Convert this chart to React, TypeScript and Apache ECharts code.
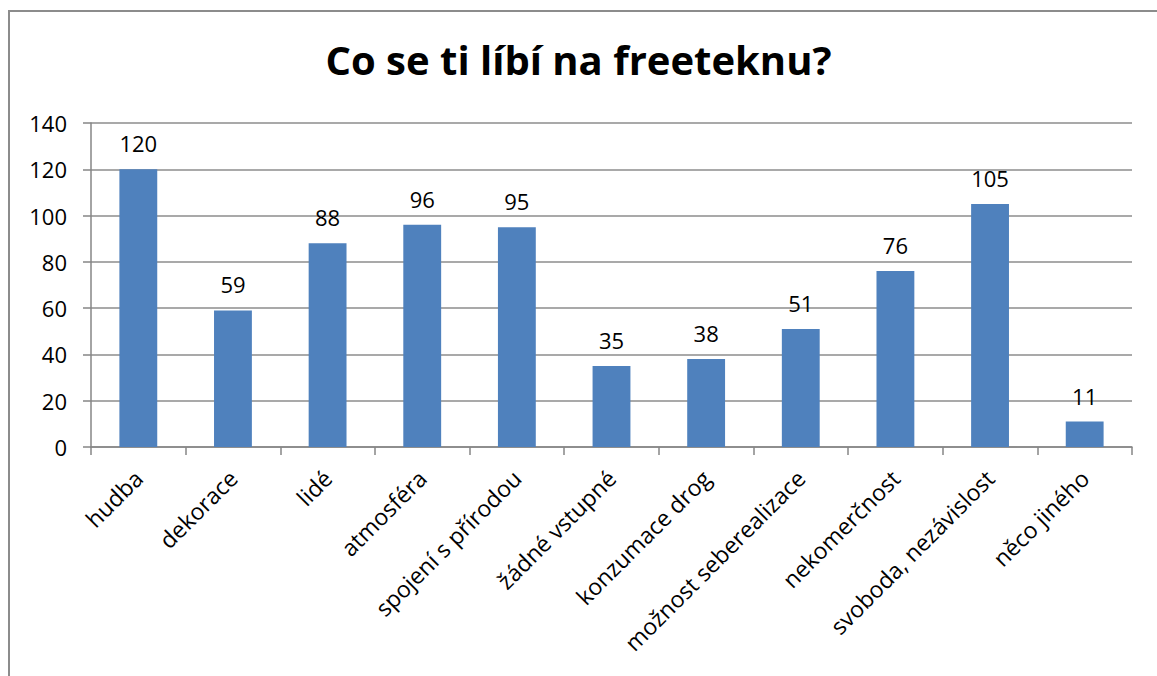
import React, { useEffect, useRef } from "react";
import * as echarts from "echarts";

const categories = [
  "hudba",
  "dekorace",
  "lidé",
  "atmosféra",
  "spojení s přírodou",
  "žádné vstupné",
  "konzumace drog",
  "možnost seberealizace",
  "nekomerčnost",
  "svoboda, nezávislost",
  "něco jiného",
];
const values = [120, 59, 88, 96, 95, 35, 38, 51, 76, 105, 11];
const titleText = "Co se ti líbí na freeteknu?";

const FONT = "'Open Sans', 'Noto Sans', sans-serif";

export default function App() {
  const ref = useRef<HTMLDivElement>(null);
  useEffect(() => {
    if (!ref.current) return;
    const chart = echarts.init(ref.current, undefined, { renderer: "svg" });
    chart.setOption({
      animation: false,
      backgroundColor: "#ffffff",
      title: {
        text: titleText,
        left: "center",
        top: 34,
        textStyle: {
          fontFamily: FONT,
          fontWeight: "bold",
          fontSize: 40,
          color: "#000000",
        },
      },
      graphic: [
        {
          type: "rect",
          shape: { x: 9, y: 11, width: 1170, height: 700 },
          style: { fill: "none", stroke: "#8c8c8c", lineWidth: 2 },
          silent: true,
        },
      ],
      grid: { left: 91, top: 123, right: 25, bottom: 229, containLabel: false },
      xAxis: {
        type: "category",
        data: categories,
        axisLine: { show: true, lineStyle: { color: "#868686", width: 1.5 } },
        axisTick: {
          show: true,
          length: 8,
          interval: 0,
          lineStyle: { color: "#868686", width: 1.5 },
        },
        axisLabel: {
          interval: 0,
          rotate: 45,
          margin: 27,
          fontFamily: FONT,
          fontSize: 23,
          color: "#000000",
        },
      },
      yAxis: {
        type: "value",
        min: 0,
        max: 140,
        interval: 20,
        axisLine: { show: true, lineStyle: { color: "#868686", width: 1.5 } },
        axisTick: { show: true, length: 8, lineStyle: { color: "#868686", width: 1.5 } },
        splitLine: { show: true, lineStyle: { color: "#8c8c8c", width: 1.5 } },
        axisLabel: {
          margin: 24,
          fontFamily: FONT,
          fontSize: 22,
          color: "#000000",
        },
      },
      series: [
        {
          type: "bar",
          data: values,
          barWidth: "40%",
          itemStyle: { color: "#4F81BD" },
          label: {
            show: true,
            position: "top",
            distance: 15,
            fontFamily: FONT,
            fontSize: 22,
            color: "#000000",
          },
        },
      ],
    });
    return () => chart.dispose();
  }, []);
  return (
    <div
      ref={ref}
      style={{ position: "absolute", left: 0, top: 0, width: 1157, height: 676 }}
    />
  );
}
